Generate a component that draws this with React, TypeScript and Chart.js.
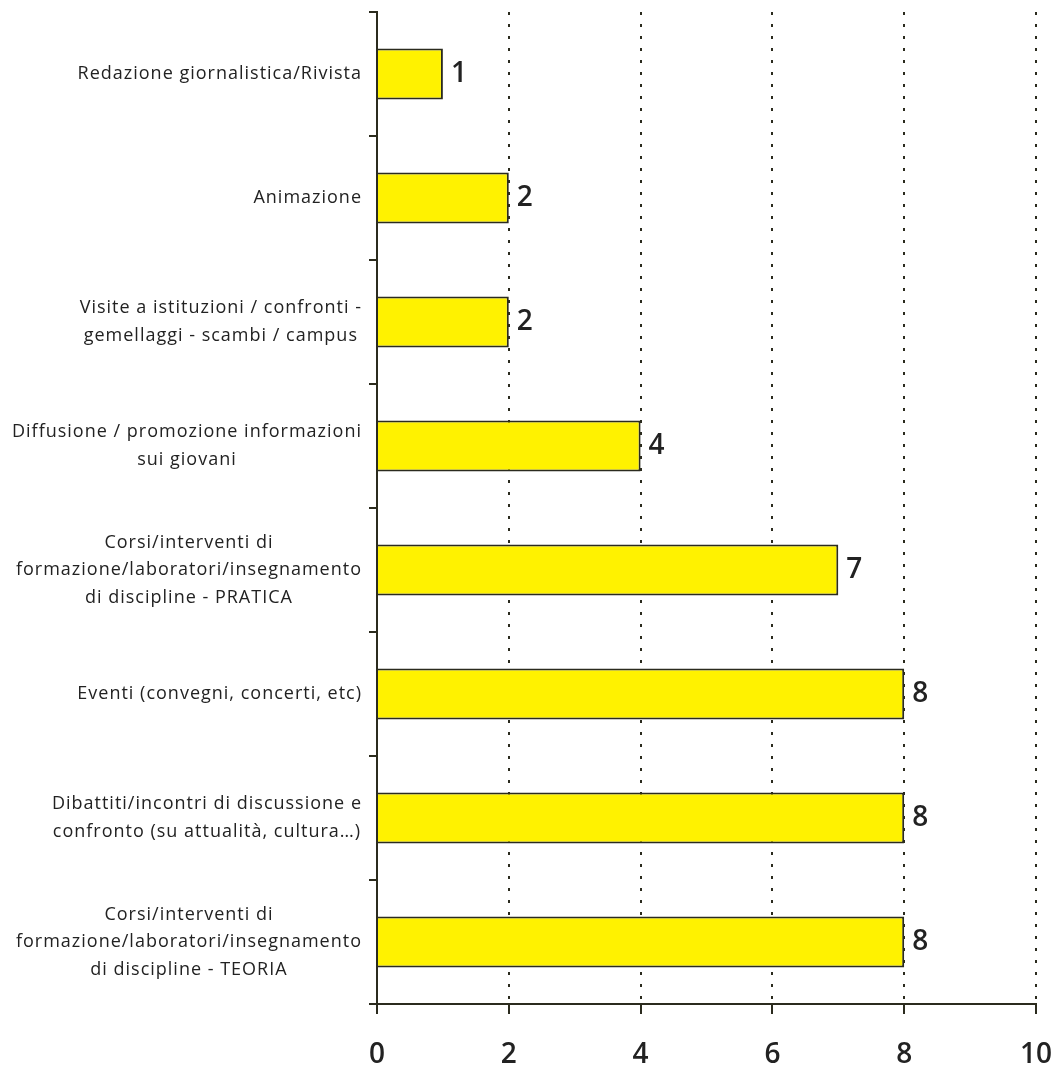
import React, { useEffect, useRef } from "react";
import { Chart, registerables } from "chart.js";

Chart.register(...registerables);

const categories: string[][] = [
  ["Redazione giornalistica/Rivista"],
  ["Animazione"],
  ["Visite a istituzioni / confronti -", "gemellaggi - scambi / campus"],
  ["Diffusione / promozione informazioni", "sui giovani"],
  ["Corsi/interventi di", "formazione/laboratori/insegnamento", "di discipline - PRATICA"],
  ["Eventi (convegni, concerti, etc)"],
  ["Dibattiti/incontri di discussione e", "confronto (su attualità, cultura…)"],
  ["Corsi/interventi di", "formazione/laboratori/insegnamento", "di discipline - TEORIA"],
];
const values: number[] = [1, 2, 2, 4, 7, 8, 8, 8];
const xTicks: number[] = [0, 2, 4, 6, 8, 10];

const DARK = "#2b2b1e";
const FONT = "'Open Sans', 'Noto Sans', sans-serif";

export default function App() {
  const ref = useRef<HTMLCanvasElement | null>(null);
  useEffect(() => {
    document.body.style.margin = "0";
    const canvas = ref.current!;
    const labelPlugin = {
      id: "customLabels",
      afterDraw(chart: any) {
        const ctx = chart.ctx as CanvasRenderingContext2D;
        const y = chart.scales.y;
        const area = chart.chartArea;
        ctx.save();
        ctx.fillStyle = "#222";
        ctx.font = `18px ${FONT}`;
        try { (ctx as any).letterSpacing = "1px"; } catch (e) {}
        ctx.textBaseline = "middle";
        ctx.textAlign = "center";
        const lh = 27.5;
        categories.forEach((lines, i) => {
          const cy = y.getPixelForTick(i);
          const maxW = Math.max(...lines.map((l) => ctx.measureText(l).width));
          const cx = area.left - 15 - maxW / 2;
          lines.forEach((l, j) => {
            ctx.fillText(l, cx, cy + (j - (lines.length - 1) / 2) * lh);
          });
        });
        ctx.restore();
      },
      afterDatasetsDraw(chart: any) {
        const ctx = chart.ctx as CanvasRenderingContext2D;
        const meta = chart.getDatasetMeta(0);
        ctx.save();
        ctx.fillStyle = "#222";
        ctx.font = `600 28px ${FONT}`;
        ctx.textBaseline = "middle";
        ctx.textAlign = "left";
        meta.data.forEach((bar: any, i: number) => {
          ctx.fillText(String(values[i]), bar.x + 8, bar.y);
        });
        ctx.restore();
      },
    };
    const chart = new Chart(canvas, {
      type: "bar",
      data: {
        labels: categories.map((c) => c.join(" ")),
        datasets: [
          {
            data: values,
            backgroundColor: "#fff200",
            borderColor: DARK,
            borderWidth: 2,
            barPercentage: 0.41,
            categoryPercentage: 1,
          },
        ],
      },
      options: {
        indexAxis: "y",
        animation: false,
        responsive: false,
        maintainAspectRatio: false,
        layout: { padding: { top: 12, right: 20, bottom: 0, left: 0 } },
        plugins: { legend: { display: false }, tooltip: { enabled: false } },
        scales: {
          x: {
            type: "linear",
            min: 0,
            max: 10,
            afterBuildTicks(scale: any) {
              scale.ticks = xTicks.map((v) => ({ value: v }));
            },
            afterFit(scale: any) {
              scale.height = 63;
              scale.paddingLeft = 0;
              scale.paddingRight = 0;
            },
            grid: {
              color: DARK,
              lineWidth: 2,
              drawTicks: true,
              tickLength: 10,
              tickBorderDash: [],
            } as any,
            border: { color: DARK, width: 2, dash: [3, 9] },
            ticks: {
              color: "#222",
              font: { family: FONT, size: 28, weight: "600" },
              padding: 24,
            },
          },
          y: {
            type: "category",
            afterFit(scale: any) {
              scale.width = 377;
              scale.paddingTop = 0;
              scale.paddingBottom = 0;
            },
            grid: {
              color: DARK,
              lineWidth: 2,
              drawOnChartArea: false,
              drawTicks: true,
              tickLength: 8,
              offset: true,
            },
            border: { color: DARK, width: 2 },
            ticks: { display: false },
          },
        },
      },
      plugins: [labelPlugin],
    });
    return () => chart.destroy();
  }, []);
  return (
    <div style={{ width: 1056, height: 1067 }}>
      <canvas ref={ref} width={1056} height={1067} style={{ display: "block" }} />
    </div>
  );
}
